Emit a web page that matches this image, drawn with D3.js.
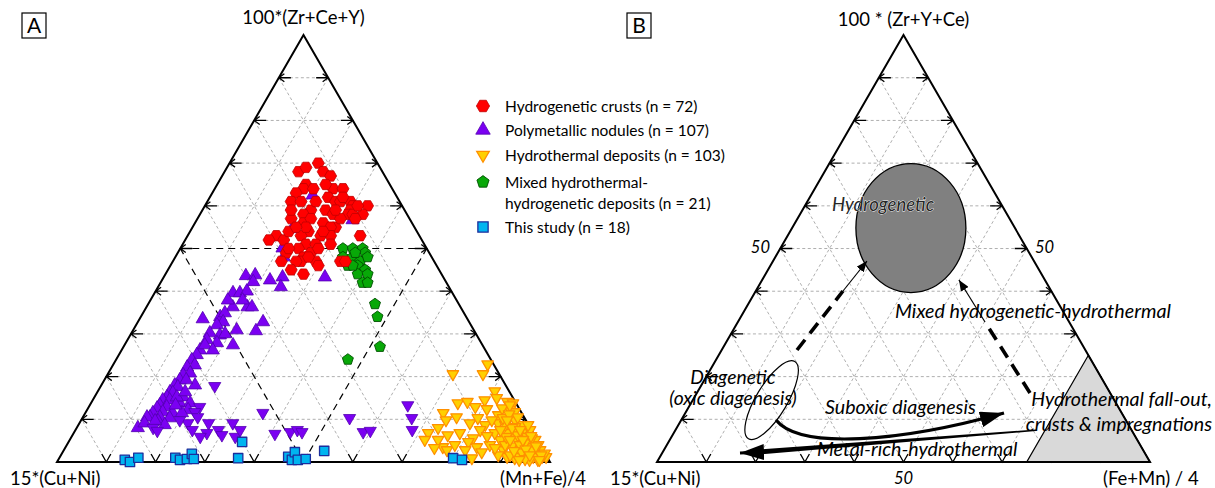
<!DOCTYPE html>
<html><head><meta charset="utf-8">
<script src="https://cdn.jsdelivr.net/npm/d3@7"></script>
<style>
body{margin:0;background:#fff}
svg{display:block}
text{font-family:Lato,"Open Sans",sans-serif;fill:#000}
</style></head>
<body><svg id="chart" width="1215" height="488"></svg>
<script>
// ---- DATA: ternary values [100*(Zr+Ce+Y) %, (Mn+Fe)/4 %]; 15*(Cu+Ni) = 100 - both ----
const hydrogeneticCrusts = [[68,15],[69,16],[70,18],[68,20],[67,22],[65,18],[64,18],[63,17],[61,17],[61,19],
[64,24],[64,26],[62,24],[61,26],[61,27],[61,29],[60,30],[60,33],[58,33],[59,30],
[58,30],[58,31],[59,22],[59,25],[58,21],[57,19],[56,22],[57,23],[58,27],[56,26],
[55,29],[55,28],[57,29],[53,18],[52,17],[52,20],[54,24],[53,23],[53,27],[53,29],
[51,25],[51,27],[50,24],[49,22],[47,22],[48,26],[49,27],[47,26],[47,29],[44,28],
[46,30],[53,35],[47,34],[54,20],[61,22],[59,27],[55,23],[50,28],[55,21],[50,22],
[48,27],[62,27],[60,31],[47,25],[51,30],[47,35],[64,20],[65,22],[59,18],[54,27],[57,32],[45,25]];
const nodulesUp = [[43.6,16.5],[43.8,18.3],[42.2,18.7],[43.3,24.1],[41,24.9],[39.6,15.9],[39.6,17.3],[40,18.5],
[36.3,20.5],[36.3,21.4],[36.3,17.5],[33.5,12.8],[34,16.1],[34.9,16.6],[32.8,17.3],[32.1,16.4],[32.8,25.4],
[30.7,25],[30.2,15.9],[29.7,18.2],[30,19.1],[27.9,18.5],[27.4,22],[28.6,16.1],[26.2,15.9],[25.1,15.8],
[23.9,15.4],[22.7,16.6],[22.2,15.3],[20.8,16.6],[20.4,15.4],[19.2,15.3],[18,14.9],[17.6,15.7],[16.4,14.7],
[16.2,15.4],[15.2,14.7],[14.5,14.2],[14.5,15.6],[13.3,14.2],[12.6,14],[12.9,15.8],[11.5,13.7],[10.5,13.6],
[11.7,15.6],[13.8,18],[15.2,18],[13.8,20.1],[12.2,20.5],[11.5,17.7],[11.5,19.6],[10.5,15.6],[8,12.4],
[10.5,13],[10.3,17.7],[15.2,16.7],[62.5,20.6],[56.7,31.6],[54.6,20.4],[50.1,20.7],[48,22],[43.3,32.7],
[42.6,21.9],[16.4,17.8],[13.3,17.4],[9.6,15.7],[8.7,17.5],[9.6,15.1],[18,19],[27.4,16.3],[26.2,18.5],
[37.9,15.7],[37.9,18.7],[30.9,21],[19.2,16.6],[9.1,13.2]];
const nodulesDown = [[17.8,23.1],[12.9,22.5],[11.7,22.1],[10.5,23.3],[9.1,26.2],[9.1,22],[7.5,29],[9.1,31.1],
[5.9,33.2],[11.5,36],[8,15.5],[7.3,16.7],[6.8,27],[5.9,26.1],[6.3,30.3],[7.5,33.4],[6.6,40.9],[7,43.8],
[7.5,45],[7,46.2],[10.3,54.2],[7,58.6],[7.3,59.9],[13.3,64.5],[10.3,66.8],[7.5,68.3],[9.8,20],[7.5,23.7]];
const hydrothermal = [[22.9,75.9],[20.6,76.1],[20.6,70],[16.6,80.5],[15,81.7],[14.5,79.5],[13.8,74.4],[14.1,76.2],
[12.9,78.4],[12.4,81],[14.1,84.3],[13.8,85.6],[12.2,85.8],[11.7,87],[11.5,72.6],[10.5,75.8],[9.1,79.2],[8.7,82.5],
[11,84],[9.1,84.9],[9.8,88],[8.7,90.2],[6.8,71.9],[8,73.3],[6.3,76.1],[6.8,78.3],[5.6,81.6],[4.7,81.1],[3.5,83.4],
[2.3,85],[3.5,76.5],[2.8,77.7],[5.2,87.3],[2.8,89.1],[1.2,90.7],[7,89],[5.2,90.7],[2.8,92.1],[6.8,90.9],[5.9,92.4],
[3.5,94.1],[5.2,94.4],[2.8,96.6],[2.1,94.3],[1.2,96],[1.2,97.8],[1.2,98.6],[0.9,92.4],[0.9,83.7],[7.5,92.2],
[4.4,92.7],[8.2,88.8],[6.8,88.1],[4,95.6],[2,97.9],[1.2,93.3],[12.6,84],[13.3,85.2],[10.5,88.2],[2.8,94.9],
[8.7,86.6],[3.7,90.4],[4,91.9],[8.7,91.2],[5.6,93.5],[3.7,95.3],[1.6,97.4],[0.5,97.3],[0.5,95.6],[2.3,93.1],
[1.6,91.1],[3,93.6],[6.3,90.3],[8,88.3],[4,88.9],[1.6,88.7],[6.8,85.4],[4,85.8],[10.3,85.3],[11.2,86.1],
[7.5,90.2],[6.1,93.1],[0.5,97.6],[0.7,94.6],[2.6,91.4],[5.9,88.2],[9.8,83.3],[7.5,82.1],[2.8,81.4],[4,78.7],
[5.2,74.7],[5.2,72],[3.3,74.9],[10.3,80.2],[9.8,74],[7.5,86.2],[6.1,84.2],[5.2,91.9],[5.2,89.3],[3.3,87.2],
[1.6,95.1],[0.5,93.5],[9.8,86.4]];
const mixedDeposits = [[50,33],[50,35],[50,37],[49,38],[48,34],[48,36],[47,38],[48,39],[46,36],[46,38],[45,40],
[44,39],[44,41],[42,41],[42,42],[37,46],[34,48],[27,52],[49,36],[24,47],[46,37]];
const thisStudy = [[0.5,13.5],[0,14.8],[1,16],[1,23.5],[0.5,24.7],[0.7,26],[1.9,26.4],[0.7,27.4],[0.9,36.3],
[4.7,35.2],[1.2,46.3],[0.5,47.4],[2.3,47.1],[0.5,48.6],[0.7,50.1],[2.6,52.9],[0.9,79.9],[0.5,81.9]];

const legendLabels = [["Hydrogenetic crusts (n = 72)"],["Polymetallic nodules (n = 107)"],["Hydrothermal deposits (n = 103)"],
["Mixed hydrothermal-","hydrogenetic deposits (n = 21)"],["This study (n = 18)"]];
const tickSteps = [10,20,30,40,50,60,70,80,90];

// ---- drawing ----
const svg = d3.select("#chart");
const S3 = Math.sqrt(3)/2;

function makePanel(left, right, base){
  const w = right-left;
  const xs = d3.scaleLinear().domain([0,100]).range([left,right]);
  const ys = d3.scaleLinear().domain([0,100]).range([base, base - w*S3]);
  const proj = (a,c) => [xs(c + a/2), ys(a)];
  return {xs, ys, proj, left, right, base, w};
}

function drawFrame(P, medial){
  const g = svg.append("g");
  tickSteps.forEach(v => {
    const lines = [
      [P.proj(v,0), P.proj(v,100-v)],
      [P.proj(0,v), P.proj(100-v,v)],
      [P.proj(0,100-v), P.proj(100-v,0)]
    ];
    lines.forEach(l => {
      const isMed = medial && v===50;
      g.append("line").attr("x1",l[0][0]).attr("y1",l[0][1]).attr("x2",l[1][0]).attr("y2",l[1][1])
        .attr("stroke", isMed ? "#000" : "#a6a6a6")
        .attr("stroke-width", isMed ? 1.2 : 0.9)
        .attr("stroke-dasharray", isMed ? "7,5" : "3,2.5");
    });
  });
  const tk = g.append("g").attr("stroke","#000").attr("stroke-width",1.3).attr("fill","none");
  tickSteps.forEach(v => {
    const L = P.proj(v,0), R = P.proj(v,100-v), B = P.proj(0,v);
    tk.append("path").attr("d",`M${L[0]+12},${L[1]}H${L[0]}M${L[0]+5.5},${L[1]-4}L${L[0]},${L[1]}L${L[0]+5.5},${L[1]+4}`);
    tk.append("path").attr("d",`M${R[0]-12},${R[1]}H${R[0]}M${R[0]-5.5},${R[1]-4}L${R[0]},${R[1]}L${R[0]-5.5},${R[1]+4}`);
    tk.append("path").attr("d",`M${B[0]-4.5},${B[1]-8}L${B[0]},${B[1]}L${B[0]+4.5},${B[1]-8}`);
  });
  return g;
}
function drawOutline(P){
  const pts = [P.proj(100,0), P.proj(0,0), P.proj(0,100)];
  svg.append("path").attr("d","M"+pts.map(p=>p.join(",")).join("L")+"Z")
    .attr("fill","none").attr("stroke","#000").attr("stroke-width",2).attr("stroke-linejoin","miter");
}

function poly(n, r, rot){
  return "M" + d3.range(n).map(i => {
    const t = rot + i*2*Math.PI/n;
    return (r*Math.cos(t)).toFixed(2)+","+(r*Math.sin(t)).toFixed(2);
  }).join("L") + "Z";
}
const shapes = {
  hex: r => poly(6, r, 0),
  up: r => poly(3, r, -Math.PI/2),
  down: r => poly(3, r, Math.PI/2),
  pent: r => poly(5, r, -Math.PI/2),
  square: r => poly(4, r, Math.PI/4)
};
const styles = {
  nodUp:  {shape:"up",   r:7.6, fill:"#7b00f2", stroke:"#5300b0", sw:0.8},
  nodDn:  {shape:"down", r:7.0, fill:"#7b00f2", stroke:"#5300b0", sw:0.8},
  hyd:    {shape:"down", r:6.6, fill:"#ffd000", stroke:"#ff9000", sw:1.3},
  crust:  {shape:"hex",  r:6.0, fill:"#ff0000", stroke:"#c00000", sw:0.8},
  mixed:  {shape:"pent", r:5.8, fill:"#08a808", stroke:"#005000", sw:0.9},
  study:  {shape:"square", r:6.6, fill:"#00b4f0", stroke:"#1b2d9c", sw:1.3}
};

// Panel A
const A = makePanel(57, 550, 462);
drawFrame(A, true);
drawOutline(A);
function plot(P, data, st){
  svg.append("g").selectAll("path").data(data).join("path")
    .attr("transform", d => { const p = P.proj(d[0], d[1]); return `translate(${p[0]},${p[1]})`; })
    .attr("d", shapes[st.shape](st.r))
    .attr("fill", st.fill).attr("stroke", st.stroke).attr("stroke-width", st.sw).attr("stroke-linejoin","round");
}
plot(A, nodulesUp, styles.nodUp);
plot(A, nodulesDown, styles.nodDn);
plot(A, hydrothermal, styles.hyd);
plot(A, mixedDeposits, styles.mixed);
plot(A, hydrogeneticCrusts, styles.crust);
plot(A, thisStudy, styles.study);

// legend
const legendStyles = [styles.crust, styles.nodUp, styles.hyd, styles.mixed, styles.study];
const legendY = [106, 130, 155, 182, 227];
const lg = svg.append("g");
legendLabels.forEach((lab, i) => {
  const st = legendStyles[i];
  lg.append("path").attr("transform",`translate(483,${legendY[i]})`).attr("d", shapes[st.shape](st.r*1.1))
    .attr("fill",st.fill).attr("stroke",st.stroke).attr("stroke-width",st.sw);
  lab.forEach((t, j) => lg.append("text").attr("x",505).attr("y",legendY[i]+5.5+j*21.5).attr("font-size",15.5).text(t));
});

// axis labels A
svg.append("text").attr("x",303.5).attr("y",24).attr("text-anchor","middle").attr("font-size",18.5).text("100*(Zr+Ce+Y)");
svg.append("text").attr("x",10).attr("y",485).attr("font-size",18.5).text("15*(Cu+Ni)");
svg.append("text").attr("x",500).attr("y",485).attr("font-size",18.5).text("(Mn+Fe)/4");
function panelLetter(x, t){
  svg.append("rect").attr("x",x).attr("y",13).attr("width",24).attr("height",25).attr("fill","none").attr("stroke","#000").attr("stroke-width",1.2);
  svg.append("text").attr("x",x+12).attr("y",33).attr("text-anchor","middle").attr("font-size",21).text(t);
}
panelLetter(22,"A");
panelLetter(627,"B");

// Panel B
const B = makePanel(657, 1150, 462);
drawFrame(B, false);
const hf = [B.proj(25,75), B.proj(0,75), B.proj(0,100)];
svg.append("path").attr("d","M"+hf.map(p=>p.join(",")).join("L")+"Z").attr("fill","#d9d9d9").attr("stroke","#000").attr("stroke-width",1.2);
drawOutline(B);
const hc = B.proj(54.8,24.1);
svg.append("ellipse").attr("cx",hc[0]).attr("cy",hc[1]).attr("rx",55).attr("ry",64.5)
  .attr("fill","#808080").attr("stroke","#000").attr("stroke-width",1.3);
const dc = B.proj(14.5,16.0);
svg.append("ellipse").attr("cx",0).attr("cy",0).attr("rx",45).attr("ry",15.5)
  .attr("transform",`translate(${dc[0]},${dc[1]}) rotate(-59)`)
  .attr("fill","none").attr("stroke","#000").attr("stroke-width",1.2);

const defs = svg.append("defs");
function marker(id, w, h){
  defs.append("marker").attr("id",id).attr("viewBox",`0 0 ${w} ${h}`).attr("refX",w).attr("refY",h/2)
    .attr("markerWidth",w).attr("markerHeight",h).attr("markerUnits","userSpaceOnUse").attr("orient","auto")
    .append("path").attr("d",`M0,0L${w},${h/2}L0,${h}Z`).attr("fill","#000");
}
marker("arrSmall", 11, 9);
marker("arrBig", 24, 16);
const ln = (p,q) => `M${p[0]},${p[1]}L${q[0]},${q[1]}`;
svg.append("path").attr("d", ln([797,350],[843,291])).attr("stroke","#000").attr("stroke-width",3.6).attr("stroke-dasharray","13,8").attr("fill","none");
svg.append("path").attr("d", ln([843,291],[867,261])).attr("stroke","#000").attr("stroke-width",1.2).attr("fill","none").attr("marker-end","url(#arrSmall)");
svg.append("path").attr("d", ln([1030,393],[985,322])).attr("stroke","#000").attr("stroke-width",3.6).attr("stroke-dasharray","13,8").attr("fill","none");
svg.append("path").attr("d", ln([985,322],[959,280])).attr("stroke","#000").attr("stroke-width",1.2).attr("fill","none").attr("marker-end","url(#arrSmall)");
svg.append("path").attr("d","M776,420 C800,450 900,442 1004,413").attr("stroke","#000").attr("stroke-width",3.2).attr("fill","none").attr("marker-end","url(#arrBig)");
svg.append("path").attr("d","M1036,429.5 L1036,431 L752,455 L752,450 Z").attr("fill","#000");
svg.append("path").attr("d","M752,452.5 L740,453").attr("stroke","#000").attr("stroke-width",3).attr("marker-end","url(#arrBig)");

const it = (x,y,t,size,anchor) => svg.append("text").attr("x",x).attr("y",y).attr("font-size",size)
  .attr("font-style","italic").attr("text-anchor",anchor||"start").text(t);
it(832,211,"Hydrogenetic",18.5).style("fill","#262626").attr("stroke","#fff").attr("stroke-width",0.8).attr("paint-order","stroke");
it(895,318,"Mixed hydrogenetic-hydrothermal",19.7);
it(733,384,"Diagenetic",19.3,"middle");
it(733,405,"(oxic diagenesis)",19.3,"middle");
it(825,414,"Suboxic diagenesis",19.6);
it(1212,406,"Hydrothermal fall-out,",19.6,"end");
it(1212,431,"crusts & impregnations",19.6,"end");
it(817,456,"Metal-rich-hydrothermal",19.6);
it(770,253,"50",16.5,"end");
it(1035,253,"50",16.5);
it(B.xs(50),484,"50",16.5,"middle");
svg.append("text").attr("x",903.5).attr("y",26).attr("text-anchor","middle").attr("font-size",18.5).text("100 * (Zr+Y+Ce)");
svg.append("text").attr("x",610).attr("y",485).attr("font-size",18.5).text("15*(Cu+Ni)");
svg.append("text").attr("x",1103).attr("y",485).attr("font-size",18.5).text("(Fe+Mn) / 4");
</script></body></html>
